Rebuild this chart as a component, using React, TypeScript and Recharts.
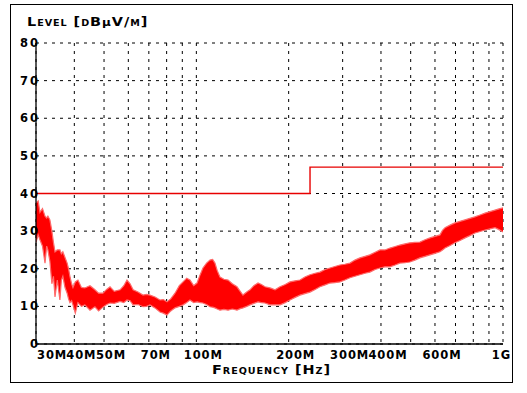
import React from 'react';
import { ComposedChart, Area, Line, XAxis, YAxis, CartesianGrid } from 'recharts';

const freqMHz = [
  30, 30.5, 30.9, 31.5, 32.1, 32.5, 32.8, 33.3, 33.8, 34.2, 34.6, 35.2, 35.9, 36.3, 36.7, 37.3,
  37.9, 38.3, 38.7, 39.2, 39.6, 40.3, 41.1, 42.2, 43.3, 45, 46.7, 48, 49.6, 51, 52.3, 54, 56.4, 58,
  59.4, 60.8, 62.2, 64.5, 67, 68.8, 70.6, 73.3, 76.1, 78, 80.2, 82.5, 85.2, 88, 90.5, 93, 95.3, 98,
  100.5, 103, 105.1, 108, 110.8, 113, 115, 117, 119.4, 123, 126.9, 131, 135.7, 139, 141.9, 146,
  149.6, 154, 158.9, 163, 167.4, 173.9, 180.6, 187.4, 195, 202, 210, 217.8, 226, 234.8, 244, 253,
  263, 272.8, 283, 294, 305, 317, 329, 341.7, 355, 368, 383, 397, 412, 428, 445, 461, 479, 497,
  516, 536, 557, 578, 600, 623, 635, 647, 672, 697, 724, 752, 780, 810, 842, 874, 907, 942, 970,
  1000,
];
const levelHigh = [
  37.5, 38, 35, 36, 34, 33.5, 34, 33, 30, 27, 24.5, 25, 25, 24, 24.5, 23, 21.5, 20, 18, 16, 15,
  16.5, 17, 15, 14.9, 15.5, 14.4, 13.5, 13.5, 14.5, 15.2, 14, 14.4, 15.5, 17, 16, 14.4, 13.8, 13,
  13.2, 13, 12.5, 11.7, 11.8, 11.2, 12, 13.5, 15.5, 16.5, 17.5, 17, 15.5, 16.2, 18.5, 20.2, 21.5,
  22.3, 22.5, 21.5, 19.5, 17.8, 17.2, 17, 16, 15.2, 14, 13, 13.8, 14.4, 15.5, 16.2, 15.8, 15.2,
  14.9, 14.4, 15.2, 15.8, 16.5, 16.8, 17, 17.8, 18.4, 18.8, 19.1, 19.8, 20.2, 20.6, 21, 21.2, 21.5,
  22.3, 22.9, 23.3, 23.7, 24.4, 25, 25, 25.5, 25.9, 26.3, 26.6, 26.9, 27, 27.1, 27.7, 28.2, 28.6,
  29, 30.2, 30.9, 31.6, 32.2, 32.6, 33, 33.4, 33.8, 34.3, 34.8, 35.2, 35.6, 35.9, 36.2,
];
const levelLow = [
  27, 29, 27.7, 26, 21.5, 26, 25, 22, 16, 18, 12.5, 17, 11.7, 17, 18, 15, 13.5, 12, 11, 11.5, 10.4,
  8.2, 11, 10, 10.4, 9, 9.9, 8.8, 9.8, 10.5, 10.9, 10.8, 11.3, 11, 11.7, 11.5, 10.4, 10.5, 9.9, 10,
  10.4, 9.6, 8.5, 8.2, 7.7, 8.8, 9.6, 10, 10.4, 11, 11.7, 11, 11.2, 11, 10.9, 10.5, 9.9, 9.8, 9.6,
  9.3, 9, 9.2, 9, 9.3, 9, 9.4, 9.6, 10, 10.4, 10.8, 11.2, 11, 10.9, 10.4, 10.4, 10.4, 11, 11.7,
  12.4, 13, 13.4, 13.8, 14.5, 15.2, 15.7, 16.2, 16.3, 16.5, 17, 17.6, 18, 18.4, 18.8, 19.1, 19.8,
  20.2, 20.5, 20.5, 21, 21.5, 21.6, 21.8, 22.3, 22.9, 23.3, 23.7, 24.1, 24.5, 25, 25.5, 26.2, 26.9,
  27.5, 28.2, 28.8, 29.5, 29.9, 30.3, 30.6, 30.9, 30.4, 29.8,
];

// limit line (class B, 3 m)
const limitFreq = [30, 234.8, 1000];
const limitLevel = [40, 47, 47];

const xTicks = [30, 40, 50, 60, 70, 80, 90, 100, 200, 300, 400, 500, 600, 700, 800, 900, 1000];
const xLabelled = [30, 40, 50, 70, 100, 200, 300, 400, 600, 1000];
const yTicks = [0, 10, 20, 30, 40, 50, 60, 70, 80];

const bandData = freqMHz.map((f, i) => ({ f, band: [levelLow[i], levelHigh[i]] }));
const limitData = limitFreq.map((f, i) => ({ f, limit: limitLevel[i] }));

const FONT = '"DejaVu Sans", sans-serif';

const fmtFreq = (v: number) => (v >= 1000 ? `${v / 1000}G` : `${v}M`);

const XTick = ({ x, y, payload }: any) => {
  const v = payload.value;
  if (!xLabelled.includes(v)) return null;
  let anchor: 'start' | 'middle' | 'end' = 'middle';
  let dx = 7;
  if (v === 30) {
    anchor = 'start';
    dx = 1;
  } else if (v === 1000) {
    anchor = 'end';
    dx = 8;
  }
  return (
    <text
      x={x + dx}
      y={y + 3}
      textAnchor={anchor}
      dominantBaseline="central"
      fontFamily={FONT}
      fontWeight="bold"
      fontSize={11.5}
      letterSpacing={0.9}
      fill="#000"
    >
      {fmtFreq(v)}
    </text>
  );
};

const YTick = ({ x, y, payload }: any) => (
  <text
    x={x + 12}
    y={y}
    textAnchor="end"
    dominantBaseline="central"
    fontFamily={FONT}
    fontWeight="bold"
    fontSize={11.5}
    letterSpacing={2}
    fill="#000"
  >
    {payload.value}
  </text>
);

const titleStyle: React.CSSProperties = {
  position: 'absolute',
  fontFamily: FONT,
  fontWeight: 'bold',
  fontSize: 12,
  fontVariant: 'small-caps',
  letterSpacing: 0.8,
  color: '#000',
  whiteSpace: 'nowrap',
  lineHeight: '12px',
  transform: 'scaleX(1.2)',
  transformOrigin: 'left center',
};

export default function App() {
  return (
    <div
      style={{
        position: 'absolute',
        left: 0,
        top: 0,
        width: 527,
        height: 393,
        background: '#fff',
      }}
    >
      <div
        style={{
          position: 'absolute',
          left: 10,
          top: 4,
          width: 503,
          height: 379,
          border: '1px solid #000',
          boxSizing: 'border-box',
        }}
      />
      <div style={{ ...titleStyle, left: 27, top: 16 }}>
        Level [dB<span style={{ fontVariant: 'normal', fontSize: 10 }}>µ</span>V/m]
      </div>
      <div style={{ ...titleStyle, left: 212, top: 364 }}>Frequency [Hz]</div>
      <div style={{ position: 'absolute', left: 0, top: 0 }}>
        <ComposedChart width={527} height={393} margin={{ top: 43, right: 24, bottom: 0, left: 0 }}>
          <CartesianGrid stroke="#000" strokeDasharray="3 5" />
          <XAxis
            dataKey="f"
            type="number"
            scale="log"
            domain={[30, 1000]}
            ticks={xTicks}
            interval={0}
            allowDataOverflow
            height={49}
            tickLine={false}
            axisLine={{ stroke: '#000', strokeWidth: 1.3 }}
            tick={<XTick />}
          />
          <YAxis
            type="number"
            domain={[0, 80]}
            ticks={yTicks}
            interval={0}
            width={36}
            tickLine={false}
            axisLine={{ stroke: '#000', strokeWidth: 1.3 }}
            tick={<YTick />}
          />
          <Area
            data={bandData}
            dataKey="band"
            type="linear"
            fill="#ff0000"
            fillOpacity={1}
            stroke="#ff6a6a"
            strokeWidth={1.2}
            dot={false}
            activeDot={false}
            isAnimationActive={false}
          />
          <Line
            data={limitData}
            dataKey="limit"
            type="stepAfter"
            stroke="#e80000"
            strokeWidth={1.4}
            dot={false}
            activeDot={false}
            isAnimationActive={false}
          />
        </ComposedChart>
      </div>
    </div>
  );
}
